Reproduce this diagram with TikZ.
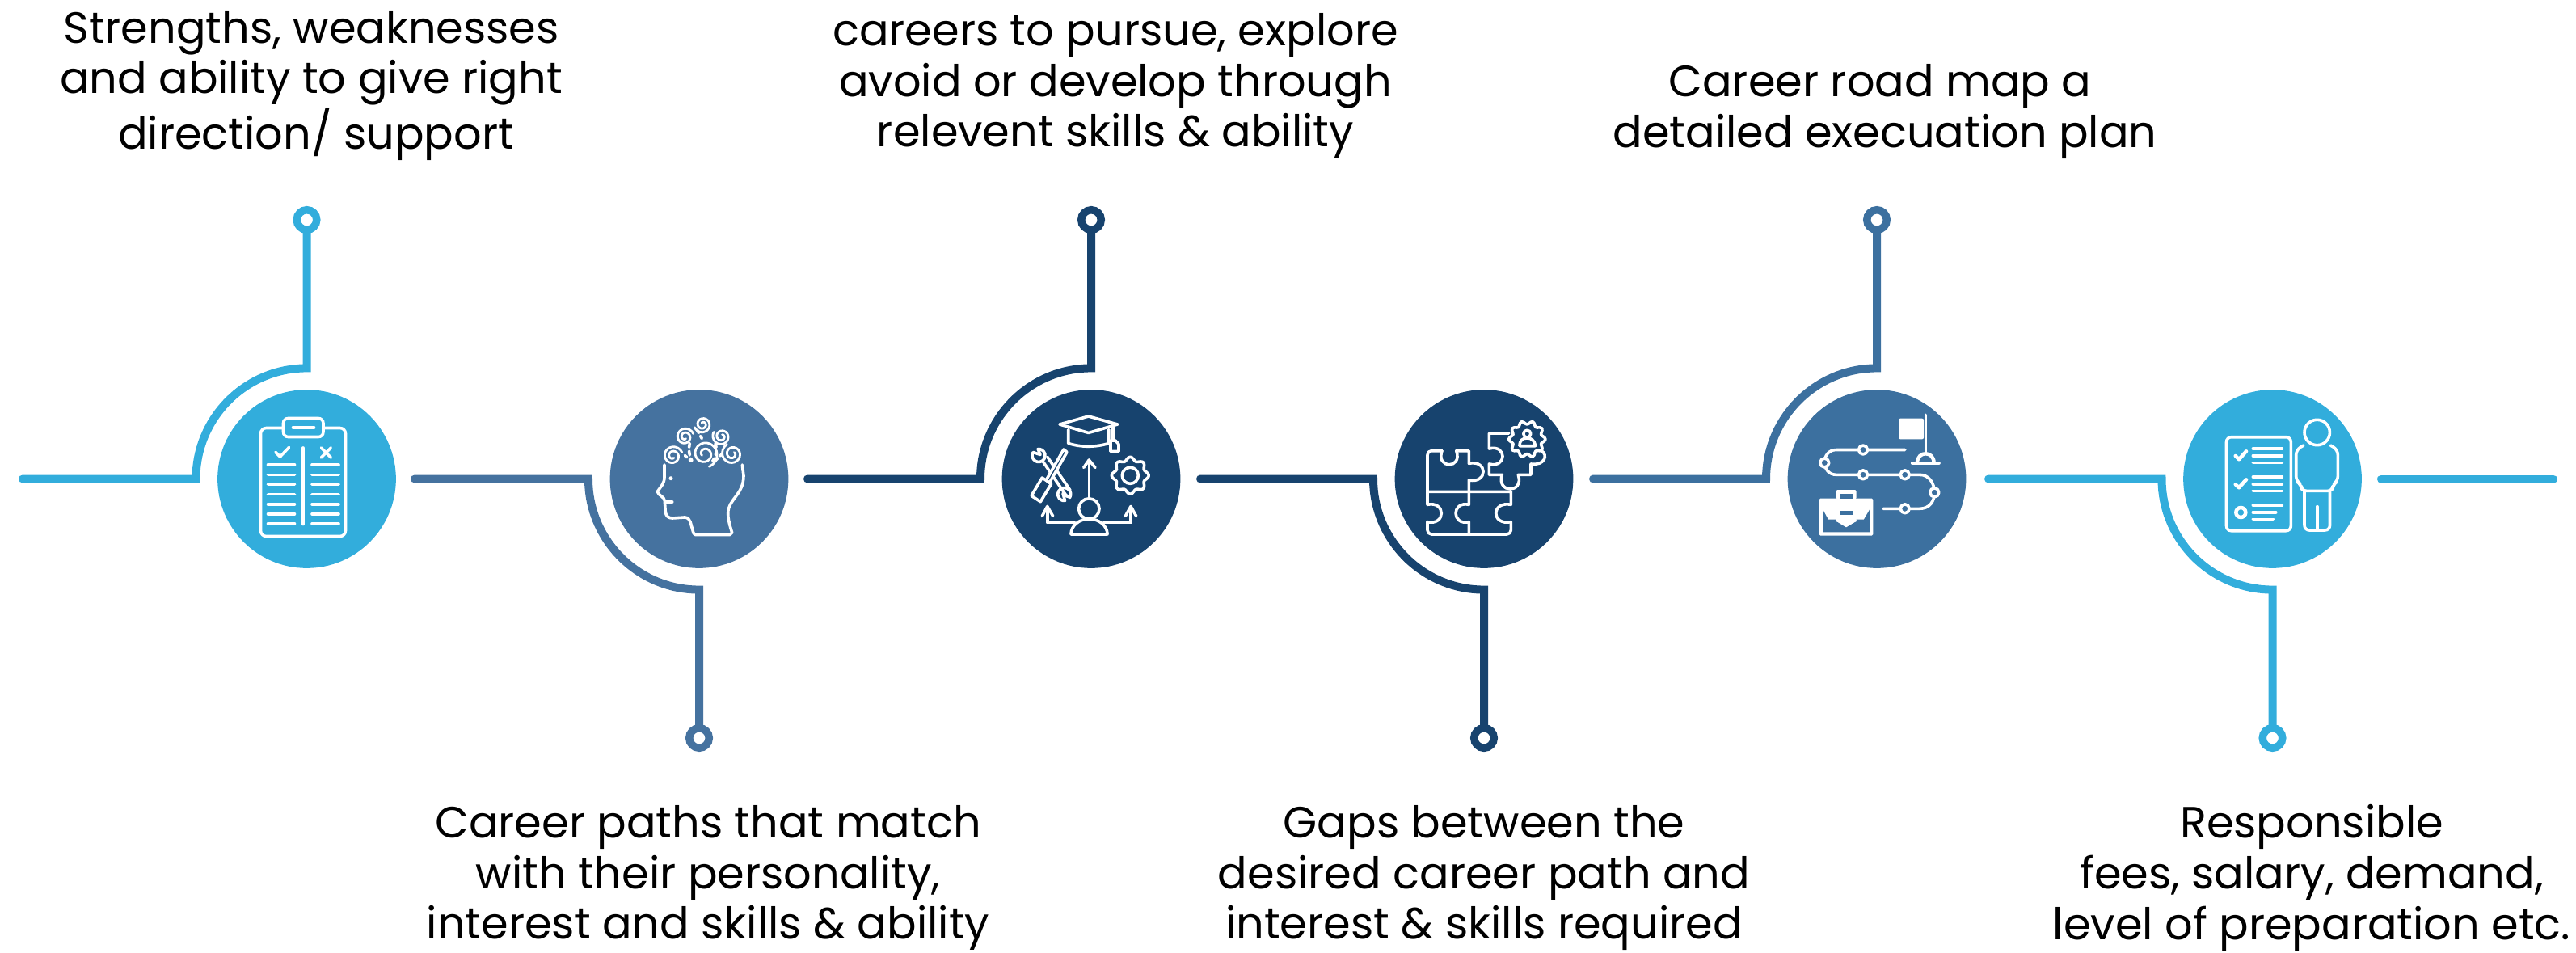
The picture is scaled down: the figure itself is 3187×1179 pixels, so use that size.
\documentclass[tikz,border=0pt]{standalone}
\usepackage{fontspec}
\setmainfont{Poppins}
\definecolor{stepsky}{HTML}{32ADDC}
\definecolor{stepsteel}{HTML}{45729F}
\definecolor{stepnavy}{HTML}{17436E}
\definecolor{stepblue}{HTML}{3C709F}
\tikzset{stepdot/.style={circle,minimum size=2.206cm,inner sep=0pt,outer sep=0pt}}
\tikzset{ringdot/.style={circle,draw,line width=.95mm,minimum size=.245cm,inner sep=0pt,outer sep=0pt}}
\tikzset{connect/.style={line width=1mm,line cap=round}}
\tikzset{iconline/.style={draw=white,line width=.36mm,line cap=round,line join=round}}
\tikzset{steptext/.style={align=center,inner sep=0pt,font=\fontsize{15.4}{17.8}\selectfont}}
\newcommand{\spiralicon}[4]{\draw [iconline,line width=.28mm] plot [smooth,domain=0:640,samples=36,variable=\t] ({#1+1.12*#3*(1-\t/820)*cos(\t+#4)},{#2+1.12*#3*(1-\t/820)*sin(\t+#4)});}
\newcommand{\gearicon}[5]{\draw [iconline,fill=#5] plot [smooth cycle,domain=0:354,samples=60,variable=\t] ({#1+#3*(.9+.1*cos(#4*\t))*cos(\t)},{#2+#3*(.9+.1*cos(#4*\t))*sin(\t)});}

\begin{document}
\begin{tikzpicture}[x=.01cm,y=.01cm]
      \useasboundingbox (0,0) rectangle (3187,-1179);

      % circles
      \node [stepdot,fill=stepsky] (clipboard) at (379.5,-592.5) {};
      \node [stepdot,fill=stepsteel] (head) at (865,-592.5) {};
      \node [stepdot,fill=stepnavy] (tools) at (1350,-592.5) {};
      \node [stepdot,fill=stepnavy] (puzzle) at (1836,-592.5) {};
      \node [stepdot,fill=stepblue] (roadmap) at (2322,-592.5) {};
      \node [stepdot,fill=stepsky] (person) at (2811.5,-592.5) {};

      % end rings
      \node [ringdot,draw=stepsky] (ringclipboard) at (379.5,-272) {};
      \node [ringdot,draw=stepsteel] (ringhead) at (865,-913) {};
      \node [ringdot,draw=stepnavy] (ringtools) at (1350,-272) {};
      \node [ringdot,draw=stepnavy] (ringpuzzle) at (1836,-913) {};
      \node [ringdot,draw=stepblue] (ringroadmap) at (2322,-272) {};
      \node [ringdot,draw=stepsky] (ringperson) at (2811.5,-913) {};

      % connector ends
      \coordinate (startclipboard) at (28,-592.5);
      \coordinate (bendclipboard) at (242.5,-592.5);
      \coordinate (starthead) at (513,-592.5);
      \coordinate (bendhead) at (728,-592.5);
      \coordinate (starttools) at (999,-592.5);
      \coordinate (bendtools) at (1213,-592.5);
      \coordinate (startpuzzle) at (1485,-592.5);
      \coordinate (bendpuzzle) at (1699,-592.5);
      \coordinate (startroadmap) at (1971,-592.5);
      \coordinate (bendroadmap) at (2185,-592.5);
      \coordinate (startperson) at (2460,-592.5);
      \coordinate (bendperson) at (2674.5,-592.5);
      \coordinate (starttail) at (2946,-592.5);
      \coordinate (endtail) at (3159,-592.5);

      \draw [connect,stepsky] (startclipboard) -- (bendclipboard) arc[start angle=180,end angle=90,radius=1.37cm] -- (ringclipboard);
      \draw [connect,stepsteel] (starthead) -- (bendhead) arc[start angle=180,end angle=270,radius=1.37cm] -- (ringhead);
      \draw [connect,stepnavy] (starttools) -- (bendtools) arc[start angle=180,end angle=90,radius=1.37cm] -- (ringtools);
      \draw [connect,stepnavy] (startpuzzle) -- (bendpuzzle) arc[start angle=180,end angle=270,radius=1.37cm] -- (ringpuzzle);
      \draw [connect,stepblue] (startroadmap) -- (bendroadmap) arc[start angle=180,end angle=90,radius=1.37cm] -- (ringroadmap);
      \draw [connect,stepsky] (startperson) -- (bendperson) arc[start angle=180,end angle=270,radius=1.37cm] -- (ringperson);
      \draw [connect,stepsky] (starttail) -- (endtail);

      % texts
      \node [steptext] (textclipboard) at (385,-106) {Strengths, weaknesses\\and ability to give right\\\hspace*{.23em}direction/ support};
      \node [steptext] (texthead) at (876,-1086) {Career paths that match\\with their personality,\\interest and skills \& ability};
      \node [steptext] (texttools) at (1380,-106) {careers to pursue, explore\\avoid or develop through\\relevent skills \& ability};
      \node [steptext] (textpuzzle) at (1836,-1086) {Gaps between the\\desired career path and\\interest \& skills required};
      \node [steptext] (textroadmap) at (2332,-138) {Career road map a\hspace*{.22em}\\detailed execuation plan};
      \node [steptext] (textperson) at (2860,-1086) {Responsible\\fees, salary, demand,\hspace*{.6em}\\level of preparation etc.};

      % clipboard icon
      \begin{scope}[shift={(clipboard.center)}]
        \draw [iconline,rounded corners=.7mm] (-57,63) rectangle (48,-71);
        \draw [iconline,fill=stepsky,rounded corners=.6mm] (-29,75) rectangle (20.5,52);
        \draw [iconline] (-17,63.5) -- (9,63.5);
        \draw [iconline] (-4.5,38.5) -- (-4.5,-56);
        \draw [iconline] (-38.5,33) -- (-33,27.5) -- (-22,39);
        \draw [iconline] (17.8,38.5) -- (29.8,26.5) (17.8,26.5) -- (29.8,38.5);
        \draw [iconline] (-48,17.5) -- (-15,17.5) (6.5,17.5) -- (39.5,17.5);
        \draw [iconline] (-48,5.2) -- (-15,5.2) (6.5,5.2) -- (39.5,5.2);
        \draw [iconline] (-48,-6.8) -- (-15,-6.8) (6.5,-6.8) -- (39.5,-6.8);
        \draw [iconline] (-48,-19) -- (-15,-19) (6.5,-19) -- (39.5,-19);
        \draw [iconline] (-48,-31.2) -- (-15,-31.2) (6.5,-31.2) -- (39.5,-31.2);
        \draw [iconline] (-48,-43.2) -- (-15,-43.2) (6.5,-43.2) -- (39.5,-43.2);
        \draw [iconline] (-48,-55.2) -- (-15,-55.2) (6.5,-55.2) -- (39.5,-55.2);
      \end{scope}

      % head icon
      \begin{scope}[shift={(head.center)}]
        \draw [iconline] (-43,17.5) -- (-43,2) .. controls (-43,-6) and (-48,-10) .. (-51.7,-15.8) .. controls (-50,-21) and (-43,-22) .. (-42.7,-27) -- (-41.7,-41) .. controls (-41,-46) and (-38,-48.5) .. (-33,-48.5) -- (-18.3,-47.5) .. controls (-14,-47.5) and (-12,-50) .. (-11,-53) -- (-7,-67) -- (-5,-69) -- (38,-69) -- (40.7,-66.5) .. controls (38,-58) and (35.7,-50) .. (35.7,-42.5) .. controls (35.7,-25) and (55,-20) .. (55,4) -- (53.3,17.5);
        \draw [iconline] (-41.7,-28.5) -- (-33.3,-28.5);
        \fill [white] (-35,.8) circle[radius=.025cm];
        \spiralicon{6.7}{31}{15}{-70}
        \spiralicon{-32.7}{28.5}{11}{20}
        \spiralicon{41}{31}{12}{120}
        \spiralicon{-17.7}{52}{10}{20}
        \spiralicon{27.7}{52.5}{10}{150}
        \spiralicon{4.3}{67.5}{9.5}{200}
        \draw [iconline,dash pattern=on .35mm off .45mm] (3.3,50) -- (-2.7,61);
        \draw [iconline,dash pattern=on .5mm off .45mm] (-11.7,44) .. controls (-13,38) and (-13,30) .. (-9,22.5);
        \draw [iconline,dash pattern=on .35mm off .45mm] (-17.7,29) -- (-10,22);
        \draw [iconline,dash pattern=on .5mm off .45mm] (20,44) .. controls (22,38) and (22,30) .. (16.7,22);
        \draw [iconline,dash pattern=on .35mm off .45mm] (28.3,31) -- (18.3,21);
      \end{scope}

      % tools icon
      \begin{scope}[shift={(tools.center)}]
        \draw [iconline] (-39,67.5) -- (-3.3,77.5) -- (32.7,67.5) -- (-3.3,57) -- cycle;
        \draw [iconline] (-28.3,61) -- (-28.3,44) .. controls (-12,39) and (5,39) .. (21.7,44) -- (21.7,61);
        \draw [iconline] (26.7,66) -- (26.7,47.5);
        \draw [iconline] (24,47.5) -- (30,47.5) -- (34,43) -- (34,34) -- (24,34) -- cycle;
        \draw [iconline] (-2.7,-24) -- (-2.7,22.5);
        \draw [iconline] (-9.3,14) -- (-2.7,23.5) -- (5,14);
        \draw [iconline] (-2.7,-37) circle[radius=.127cm];
        \draw [iconline] (-25,-68.5) -- (20,-68.5) .. controls (20,-58) and (10,-49.5) .. (-2.7,-49.5) .. controls (-15,-49.5) and (-25,-58) .. (-25,-68.5);
        \draw [iconline] (-54.3,-35) -- (-54.3,-54) -- (-20,-54) (15,-54) -- (49,-54) -- (49,-35);
        \draw [iconline] (-60.7,-46) -- (-54.3,-34) -- (-47.3,-46);
        \draw [iconline] (42.3,-46) -- (49,-34) -- (55.7,-46);
        \gearicon{48.3}{4.2}{23}{8}{stepnavy}
        \draw [iconline] (48.3,4.2) circle[radius=.1cm];
        \draw [iconline] (-65,29) ++(150:8) arc[start angle=150,end angle=456,radius=.08cm] -- (-63,30) -- cycle;
        \draw [iconline] (-33.3,-19) ++(-30:8) arc[start angle=-30,end angle=276,radius=.08cm] -- (-35,-18) -- cycle;
        \draw [iconline] (-60,22) -- (-30,-22) (-54,27) -- (-26,-14);
        \draw [iconline,fill=stepnavy] (-74,-20.8) -- (-62.7,-28.2) -- (-49.3,-5.8) -- (-60.7,1.5) -- cycle;
        \draw [iconline,fill=stepnavy] (-55.7,-1.5) -- (-34,36.5) -- (-30,33.2) -- (-51.7,-4.8) -- cycle;
      \end{scope}

      % puzzle icon
      \begin{scope}[shift={(puzzle.center)}]
        \draw [iconline,rounded corners=.5mm] (-70,-15.8) -- (-70,34.8) -- (-52,34.8);
        \draw [iconline] (-52,34.8) .. controls (-60,12) and (-26,12) .. (-34.3,34.8) -- (-18.7,34.8) -- (-18.7,19.2) .. controls (5,24) and (5,-6) .. (-18.7,-1.5) -- (-18.7,-15.8);
        \draw [iconline] (-70,-15.8) -- (33.3,-15.8) -- (33.3,-31.8) .. controls (8.5,-27) and (8.5,-58) .. (33.3,-53.2);
        \draw [iconline,rounded corners=.5mm] (33.3,-53.2) -- (33.3,-68.5) -- (-70,-68.5) -- (-70,-53.2);
        \draw [iconline] (-70,-53.2) .. controls (-47,-58) and (-47,-27) .. (-70,-31.8) -- (-70,-15.8);
        \draw [iconline] (-18.7,-15.8) -- (-18.7,-31.8) .. controls (-40.4,-27) and (-40.4,-58) .. (-18.7,-53.2) -- (-18.7,-68.5);
        \draw [iconline] (30.7,56.5) -- (6.3,56.5) -- (6.3,37.5) .. controls (28.6,43) and (28.6,13) .. (6.3,18.5) -- (6.3,5.2) -- (22.3,5.2) .. controls (15,-18.4) and (50,-18.4) .. (42.3,5.2) -- (58,5.2) -- (58,18.5) .. controls (75,16) and (80,30) .. (70.7,35);
        \gearicon{53.3}{49.2}{22.7}{10}{stepnavy}
        \draw [iconline] (53.3,55.8) circle[radius=.045cm];
        \draw [iconline] (44,40.8) -- (63.3,40.8) .. controls (63,48) and (58,50.5) .. (53.3,50.5) .. controls (48,50.5) and (44,48) .. (44,40.8);
      \end{scope}

      % road map icon
      \begin{scope}[shift={(roadmap.center)}]
        \fill [white,rounded corners=.2mm] (27,74.8) rectangle (58,49.2);
        \draw [iconline] (60.3,79.2) -- (60.3,32.5);
        \draw [iconline] (43.7,19.8) -- (77,19.8);
        \draw [iconline,line width=.45mm] (50,20) .. controls (50,35) and (70.6,35) .. (70.6,20);
        \draw [iconline] (34.7,36) -- (-50.3,36) .. controls (-60,36) and (-64.7,28) .. (-64.7,21) .. controls (-64.7,13) and (-60,5.2) .. (-50.3,5.2) -- (53,5.2) .. controls (65,5.2) and (71.3,-6) .. (71.3,-16.8) .. controls (71.3,-28) and (65,-36.8) .. (53,-36.8) -- (8,-36.8);
        \draw [iconline,fill=stepblue] (-17,36) circle[radius=.055cm];
        \draw [iconline,fill=stepblue] (-64.7,20) circle[radius=.055cm];
        \draw [iconline,fill=stepblue] (-17,5.2) circle[radius=.055cm];
        \draw [iconline,fill=stepblue] (34.7,5.2) circle[radius=.055cm];
        \draw [iconline,fill=stepblue] (71.3,-16.8) circle[radius=.055cm];
        \draw [iconline,fill=stepblue] (34.7,-36.8) circle[radius=.055cm];
        \fill [white,rounded corners=.15mm] (-71.3,-24.2) rectangle (-4.7,-70);
        \fill [white,rounded corners=.15mm] (-50.3,-13.5) rectangle (-25.3,-25);
        \fill [stepblue] (-46,-18.2) rectangle (-29.3,-24.2);
        \fill [stepblue] (-67,-37.5) -- (-60.3,-50) -- (-50.3,-50) -- (-50.3,-52.5) -- (-38,-60) -- (-25.3,-52.5) -- (-25.3,-50) -- (-16,-50) -- (-8.7,-37.5) -- (-8.7,-65.8) -- (-67,-65.8) -- cycle;
        \fill [white] (-50.3,-50) -- (-50.3,-52.5) -- (-38,-57) -- (-25.3,-52.5) -- (-25.3,-50) -- cycle;
        \fill [stepblue] (-46,-39.2) rectangle (-29.3,-44.2);
      \end{scope}

      % checklist and person icon
      \begin{scope}[shift={(person.center)}]
        \draw [iconline,rounded corners=.6mm] (-57,51.8) rectangle (22.8,-64.2);
        \draw [iconline] (-24.2,37.5) -- (11.8,37.5) (-24.2,28.8) -- (11.8,28.8) (-24.2,20.2) -- (11.8,20.2);
        \draw [iconline] (-24.2,2.5) -- (11.8,2.5) (-24.2,-6.2) -- (11.8,-6.2) (-24.2,-14.8) -- (11.8,-14.8);
        \draw [iconline] (-24.2,-32.5) -- (11.8,-32.5) (-24.2,-41.2) -- (4.2,-41.2) (-24.2,-49.8) -- (.8,-49.8);
        \draw [iconline,line width=.45mm] (-45.8,28.5) -- (-41.5,24.2) -- (-32.5,34.2);
        \draw [iconline,line width=.45mm] (-45.8,-6.8) -- (-41.5,-10.8) -- (-32.5,-.8);
        \draw [iconline,line width=.45mm] (-39.2,-41.5) circle[radius=.06cm];
        \draw [iconline] (55.2,57.5) circle[radius=.157cm];
        \draw [iconline,rounded corners=.6mm] (38.5,41.5) -- (29.2,36) -- (29.2,-3) -- (35.8,-6.8) -- (35.8,-14.8) -- (74.5,-14.8) -- (74.5,-6.8) -- (80.8,-3) -- (80.8,36) -- (71.8,41.5);
        \draw [iconline,rounded corners=.6mm] (39.5,-14.8) -- (39.5,-63.5) -- (71,-63.5) -- (71,-14.8);
        \draw [iconline] (55.2,-34.2) -- (55.2,-63.5);
      \end{scope}
    \end{tikzpicture}
\end{document}
